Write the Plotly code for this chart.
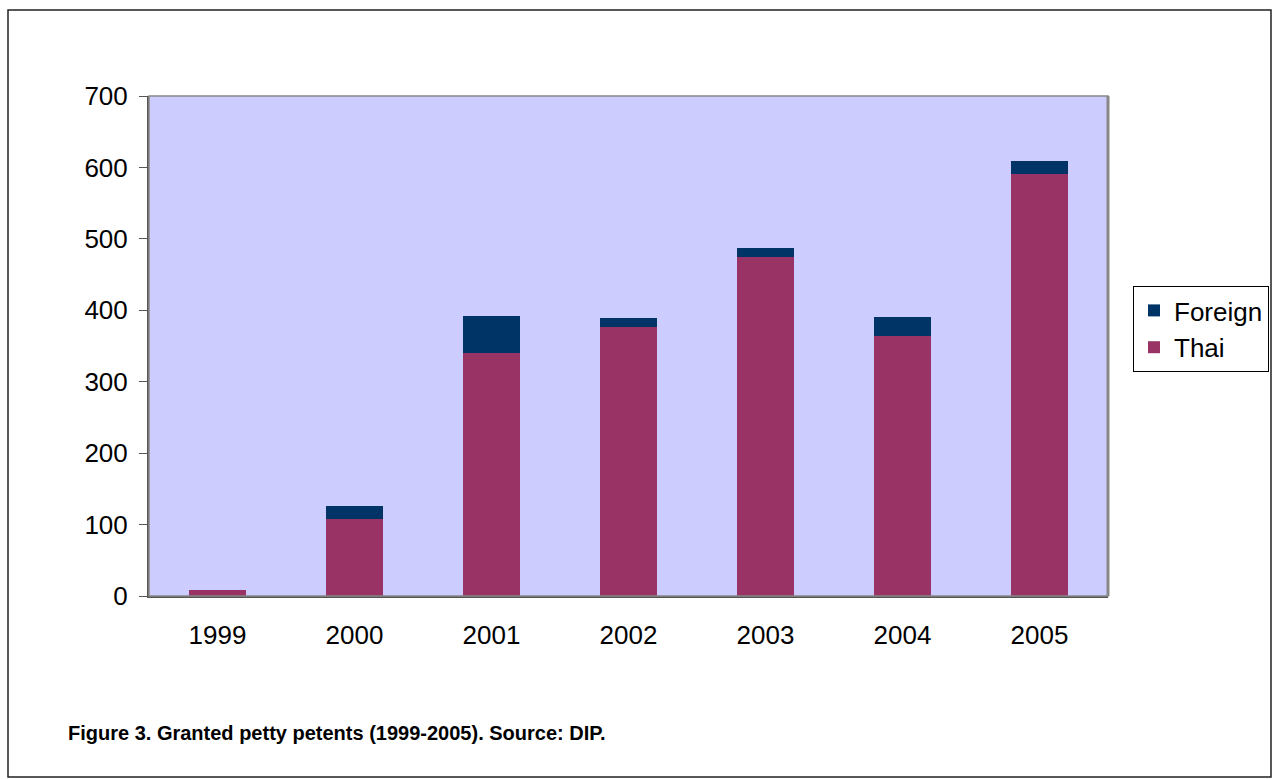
import plotly.graph_objects as go

years = ["1999", "2000", "2001", "2002", "2003", "2004", "2005"]
thai = [8, 108, 340, 377, 475, 364, 591]
foreign = [0, 18, 52, 12, 12, 27, 18]
y_ticks = [0, 100, 200, 300, 400, 500, 600, 700]
caption = "Figure 3. Granted petty petents (1999-2005). Source: DIP."

W, H = 1274, 779
L, R, T, B = 149, 166, 96, 183
pw, ph = W - L - R, H - T - B

def px_x(x):
    return (x - L) / pw

def px_y(y):
    return (H - B - y) / ph

fig = go.Figure()
fig.add_trace(go.Bar(x=years, y=thai, name="Thai", marker=dict(color="#993366", line=dict(width=0))))
fig.add_trace(go.Bar(x=years, y=foreign, name="Foreign", marker=dict(color="#003366", line=dict(width=0))))

fig.update_layout(
    width=W, height=H,
    margin=dict(l=L, r=R, t=T, b=B, autoexpand=False),
    barmode="stack",
    bargap=0.584,
    plot_bgcolor="#CCCCFF",
    paper_bgcolor="white",
    font=dict(family="Liberation Sans, Arial", color="black"),
    showlegend=True,
    legend=dict(
        x=px_x(1133), y=px_y(286), xanchor="left", yanchor="top",
        traceorder="reversed",
        bordercolor="black", borderwidth=1, bgcolor="white",
        font=dict(size=26, family="Liberation Sans, Arial"),
        itemwidth=30, tracegroupgap=0,
    ),
    xaxis=dict(
        showgrid=False, showline=True, linecolor="#555555", linewidth=2, mirror=False,
        ticks="", tickfont=dict(size=26), ticklabelstandoff=15,
    ),
    yaxis=dict(
        range=[0, 700], tickvals=y_ticks, showgrid=False, zeroline=False,
        showline=True, linecolor="#555555", linewidth=2,
        ticks="outside", ticklen=8, tickcolor="#555555", tickwidth=1,
        tickfont=dict(size=26), ticklabelstandoff=6,
    ),
    shapes=[
        dict(type="rect", xref="paper", yref="paper", x0=0, x1=1, y0=0, y1=1,
             line=dict(color="#888888", width=1.5), fillcolor="rgba(0,0,0,0)", layer="above"),
        dict(type="line", xref="paper", yref="paper", x0=1, x1=1, y0=0, y1=1,
             line=dict(color="#888888", width=3), layer="above"),
        dict(type="rect", xref="paper", yref="paper",
             x0=px_x(8), x1=px_x(1271), y0=px_y(10), y1=px_y(777),
             line=dict(color="#222222", width=1.5), fillcolor="rgba(0,0,0,0)"),
    ],
    annotations=[
        dict(text="<b>" + caption + "</b>", xref="paper", yref="paper",
             x=px_x(66), y=px_y(733), xanchor="left", yanchor="middle",
             showarrow=False, font=dict(size=20, family="Liberation Sans, Arial")),
    ],
)

fig.write_html("out.html")
